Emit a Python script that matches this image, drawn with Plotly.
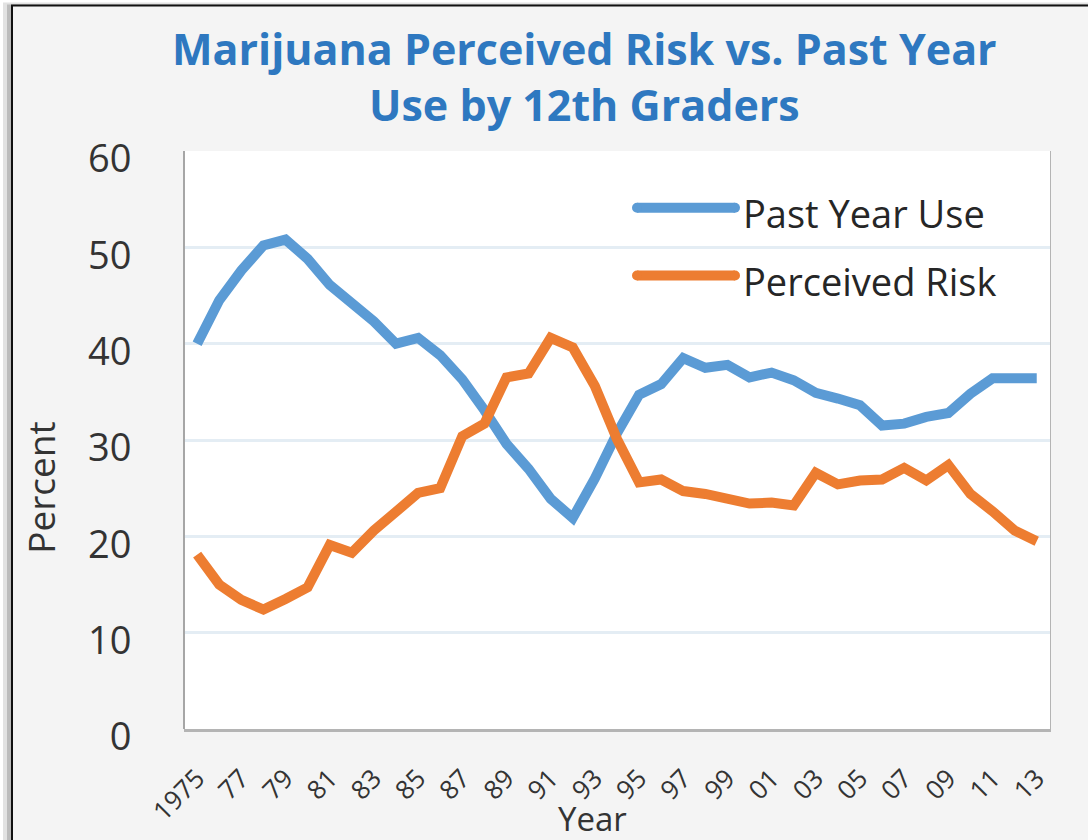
import plotly.graph_objects as go

# Monitoring-the-Future style series for 12th graders
years = list(range(1975, 2014))
past_year_use = [40.0, 44.5, 47.6, 50.2, 50.8, 48.8, 46.1, 44.3, 42.3, 40.0,
                 40.6, 38.8, 36.3, 33.1, 29.6, 27.0, 23.9, 21.9, 26.0, 30.7,
                 34.7, 35.8, 38.5, 37.5, 37.8, 36.5, 37.0, 36.2, 34.9, 34.3,
                 33.6, 31.5, 31.7, 32.4, 32.8, 34.8, 36.4, 36.4, 36.4]
perceived_risk = [18.1, 15.0, 13.4, 12.4, 13.5, 14.7, 19.1, 18.3, 20.6, 22.6,
                  24.5, 25.0, 30.4, 31.7, 36.5, 36.9, 40.6, 39.6, 35.6, 30.1,
                  25.6, 25.9, 24.7, 24.4, 23.9, 23.4, 23.5, 23.2, 26.6, 25.4,
                  25.8, 25.9, 27.1, 25.8, 27.4, 24.4, 22.6, 20.6, 19.5]
tick_years = list(range(1975, 2014, 2))
tick_labels = ["1975"] + [str(y)[-2:] for y in tick_years[1:]]
y_ticks = [0, 10, 20, 30, 40, 50, 60]

series_names = ["Past Year Use", "Perceived Risk"]
series_colors = ["#5b9bd5", "#ed7d31"]

FONT = "Open Sans"
TEXT = "#333333"

# plot-area geometry in page pixels
L, R, T, B = 185, 1050, 151, 731
W, H = R - L, B - T


def px_x(p):
    return (p - L) / W


def px_y(p):
    return (B - p) / H


fig = go.Figure()
for name, vals, col in zip(series_names, [past_year_use, perceived_risk], series_colors):
    fig.add_trace(go.Scatter(x=years, y=vals, name=name, mode="lines",
                             line=dict(color=col, width=10)))

shapes = [
    # outer frame with a soft shadow
    dict(type="rect", xref="paper", yref="paper", layer="below",
         x0=px_x(3), x1=px_x(1300), y0=px_y(1000), y1=px_y(2),
         fillcolor="#e2e2e2", line=dict(width=0)),
    dict(type="rect", xref="paper", yref="paper", layer="below",
         x0=px_x(7), x1=px_x(1300), y0=px_y(1000), y1=px_y(4),
         fillcolor="#bcbcbc", line=dict(width=0)),
    dict(type="rect", xref="paper", yref="paper", layer="below",
         x0=px_x(12), x1=px_x(1300), y0=px_y(1000), y1=px_y(5),
         fillcolor="#f4f4f4", line=dict(color="#111111", width=2)),
    # plot area with a drop shadow
    dict(type="rect", xref="paper", yref="paper", layer="below",
         x0=px_x(L - 1), x1=px_x(R + 1), y0=px_y(B + 3), y1=1,
         fillcolor="#b4b4b4", line=dict(width=0)),
    dict(type="rect", xref="paper", yref="paper", layer="below",
         x0=0, x1=1, y0=0, y1=1,
         fillcolor="white", line=dict(width=0)),
]

# hand-drawn legend: long rounded line swatches
legend_rows = [208, 276]
lx0, lx1 = 637, 735
annotations = []
for name, col, ly in zip(series_names, series_colors, legend_rows):
    shapes.append(dict(type="line", xref="paper", yref="paper", layer="above",
                       x0=px_x(lx0), x1=px_x(lx1), y0=px_y(ly), y1=px_y(ly),
                       line=dict(color=col, width=10)))
    for ex in (lx0, lx1):
        shapes.append(dict(type="circle", xref="paper", yref="paper", layer="above",
                           xsizemode="pixel", ysizemode="pixel",
                           xanchor=px_x(ex), yanchor=px_y(ly),
                           x0=-5, x1=5, y0=-5, y1=5,
                           fillcolor=col, line=dict(width=0)))
    annotations.append(dict(xref="paper", yref="paper", x=px_x(741), y=px_y(ly + 5),
                            xanchor="left", yanchor="middle", showarrow=False,
                            text=name, font=dict(family=FONT, size=38, color="#262626")))

annotations += [
    dict(xref="paper", yref="paper", x=px_x(584), y=px_y(76),
         xanchor="center", yanchor="middle", showarrow=False,
         text="<b>Marijuana Perceived Risk vs. Past Year<br>Use by 12th Graders</b>",
         font=dict(family=FONT, size=43, color="#2e78c0")),
    dict(xref="paper", yref="paper", x=px_x(41), y=px_y(489),
         xanchor="center", yanchor="middle", showarrow=False, textangle=-90,
         text="Percent", font=dict(family=FONT, size=37, color=TEXT)),
    dict(xref="paper", yref="paper", x=px_x(592), y=px_y(821),
         xanchor="center", yanchor="middle", showarrow=False,
         text="Year", font=dict(family=FONT, size=33, color=TEXT)),
]

fig.update_layout(
    width=1088, height=840,
    margin=dict(l=L, r=1088 - R, t=T, b=840 - B, pad=0),
    paper_bgcolor="white", plot_bgcolor="rgba(0,0,0,0)",
    showlegend=False,
    shapes=shapes, annotations=annotations,
    font=dict(family=FONT, color=TEXT),
)
fig.update_xaxes(range=[1974.45, 2013.6], tickmode="array",
                 tickvals=tick_years, ticktext=tick_labels, tickangle=-45,
                 tickfont=dict(family=FONT, size=26, color=TEXT),
                 ticks="", ticklabelstandoff=28,
                 showgrid=False, zeroline=False, showline=False)
fig.update_yaxes(range=[0, 60], tickmode="array", tickvals=y_ticks,
                 tickfont=dict(family=FONT, size=38, color=TEXT),
                 ticks="", ticklabelstandoff=44, ticklabelshift=8,
                 showgrid=True, gridcolor="#e4edf4", gridwidth=3,
                 zeroline=False, showline=True, linecolor="#a6a6a6", linewidth=2)

fig.write_html("out.html")
